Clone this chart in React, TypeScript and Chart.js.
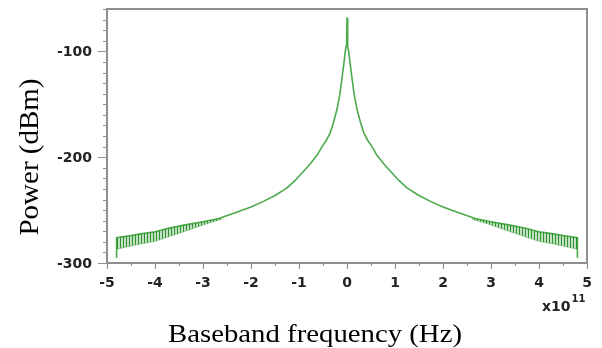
import React, { useEffect, useRef } from 'react';
import { Chart, registerables } from 'chart.js';
Chart.register(...registerables);

// Baseband frequency in units of 1e11 Hz
const freq = [
  -4.8, -4.8, -4.5, -4.3, -4.0, -3.7, -3.37, -3.0, -2.67, -2.3, -2.0, -1.75, -1.49, -1.25, -1.08, -0.9,
  -0.76, -0.62, -0.52, -0.43, -0.35, -0.28, -0.21, -0.15, -0.1, -0.07, -0.04, -0.02, -0.008, 0,
  0.008, 0.02, 0.04, 0.07, 0.1, 0.15, 0.21, 0.28, 0.35, 0.43, 0.52, 0.62, 0.76, 0.9, 1.08, 1.25,
  1.49, 1.75, 2.0, 2.3, 2.67, 3.0, 3.37, 3.7, 4.0, 4.3, 4.5, 4.8, 4.8,
];
// Power in dBm
const power = [
  -295, -276, -274, -272.5, -270.5, -267, -264, -261, -258, -252, -247, -242, -236, -229, -222, -213,
  -206, -198, -190, -184, -177, -167, -155, -141, -124, -113, -102, -95, -92, -68,
  -92, -95, -102, -113, -124, -141, -155, -167, -177, -184, -190, -198, -206, -213, -222, -229,
  -236, -242, -247, -252, -258, -261, -264, -267, -270.5, -272.5, -274, -276, -295,
];

// Noisy band near the edges (upper / lower envelope)
const bandFreqLeft = [-4.8, -4.5, -4.3, -4.0, -3.7, -3.37, -3.0, -2.6];
const bandUpperLeft = [-276, -274, -272.5, -270.5, -267, -264, -261, -257.5];
const bandLowerLeft = [-287, -284, -282, -279.5, -275, -270, -264, -258.5];
const bandFreqRight = [2.6, 3.0, 3.37, 3.7, 4.0, 4.3, 4.5, 4.8];
const bandUpperRight = [-257.5, -261, -264, -267, -270.5, -272.5, -274, -276];
const bandLowerRight = [-258.5, -264, -270, -275, -279.5, -282, -284, -287];

const xTickValues = [-5, -4, -3, -2, -1, 0, 1, 2, 3, 4, 5];
const xTickLabels = ['-5', '-4', '-3', '-2', '-1', '0', '1', '2', '3', '4', '5'];
const yTickValues = [-300, -200, -100];
const yTickLabels = ['-300', '-200', '-100'];

const pts = (xs: number[], ys: number[]) => xs.map((x, i) => ({ x, y: ys[i] }));

const frameColor = '#8f8f8f';
const labelFont = 'bold 14px "DejaVu Sans"';

const decorPlugin = {
  id: 'decor',
  afterDraw(chart: any) {
    const { ctx, chartArea: ca } = chart;
    const xs = chart.scales.x;
    const ys = chart.scales.y;
    ctx.save();
    // frame
    ctx.strokeStyle = frameColor;
    ctx.lineWidth = 2;
    ctx.strokeRect(ca.left, ca.top, ca.right - ca.left, ca.bottom - ca.top);
    // y ticks
    ctx.lineWidth = 1.2;
    ctx.beginPath();
    for (let v = -300; v <= -60; v += 10) {
      const y = Math.round(ys.getPixelForValue(v)) + 0.5;
      const len = v % 100 === 0 ? 9 : 4;
      ctx.moveTo(ca.left - len, y);
      ctx.lineTo(ca.left, y);
    }
    // x ticks
    for (let v = -5; v <= 5.001; v += 0.5) {
      const x = Math.round(xs.getPixelForValue(v)) + 0.5;
      const len = Math.abs(v % 1) < 1e-6 ? 6 : 3;
      ctx.moveTo(x, ca.bottom);
      ctx.lineTo(x, ca.bottom + len);
    }
    ctx.stroke();

    // tick labels
    ctx.fillStyle = '#222';
    ctx.font = labelFont;
    ctx.textAlign = 'right';
    ctx.textBaseline = 'middle';
    yTickValues.forEach((v, i) => {
      ctx.fillText(yTickLabels[i], ca.left - 15, ys.getPixelForValue(v) + 1);
    });
    ctx.textAlign = 'center';
    xTickValues.forEach((v, i) => {
      ctx.fillText(xTickLabels[i], xs.getPixelForValue(v), ca.bottom + 20);
    });

    // exponent label
    ctx.textBaseline = 'alphabetic';
    ctx.textAlign = 'left';
    ctx.font = 'bold 14px "DejaVu Sans"';
    ctx.fillText('x10', 542, 311);
    const wx = ctx.measureText('x10').width;
    ctx.font = 'bold 10px "DejaVu Sans"';
    ctx.fillText('11', 542 + wx + 1, 302);

    // axis titles
    ctx.fillStyle = '#000';
    ctx.font = '25px "Liberation Serif"';
    const t1 = 'Baseband frequency (Hz)';
    const w1 = ctx.measureText(t1).width;
    ctx.save();
    ctx.translate(315, 342);
    ctx.scale(294 / w1, 1);
    ctx.textAlign = 'center';
    ctx.fillText(t1, 0, 0);
    ctx.restore();

    const t2 = 'Power (dBm)';
    const w2 = ctx.measureText(t2).width;
    ctx.save();
    ctx.translate(38, 157);
    ctx.rotate(-Math.PI / 2);
    ctx.scale(157 / w2, 1.12);
    ctx.textAlign = 'center';
    ctx.fillText(t2, 0, 0);
    ctx.restore();
    ctx.restore();
  },
};

function makeHatch(): CanvasPattern | string {
  const pc = document.createElement('canvas');
  pc.width = 3;
  pc.height = 4;
  const c = pc.getContext('2d');
  if (!c) return 'rgba(30,140,30,0.55)';
  c.fillStyle = 'rgba(80,170,80,0.35)';
  c.fillRect(0, 0, 3, 4);
  c.fillStyle = 'rgba(20,130,20,0.85)';
  c.fillRect(0, 0, 1, 4);
  return c.createPattern(pc, 'repeat') || 'rgba(30,140,30,0.55)';
}

export default function App() {
  const ref = useRef<HTMLCanvasElement>(null);
  useEffect(() => {
    if (!ref.current) return;
    const lineColor = 'rgba(45,155,45,0.85)';
    const hatch = makeHatch();
    const chart = new Chart(ref.current, {
      type: 'line',
      data: {
        datasets: [
          {
            data: pts(bandFreqLeft, bandUpperLeft),
            borderColor: 'rgba(0,0,0,0)',
            borderWidth: 0,
            pointRadius: 0,
            fill: false,
          },
          {
            data: pts(bandFreqLeft, bandLowerLeft),
            borderColor: 'rgba(80,170,80,0.5)',
            borderWidth: 1,
            pointRadius: 0,
            backgroundColor: hatch,
            fill: '-1',
          },
          {
            data: pts(bandFreqRight, bandUpperRight),
            borderColor: 'rgba(0,0,0,0)',
            borderWidth: 0,
            pointRadius: 0,
            fill: false,
          },
          {
            data: pts(bandFreqRight, bandLowerRight),
            borderColor: 'rgba(80,170,80,0.5)',
            borderWidth: 1,
            pointRadius: 0,
            backgroundColor: hatch,
            fill: '-1',
          },
          {
            data: pts(freq, power),
            borderColor: lineColor,
            borderWidth: 1.6,
            pointRadius: 0,
            fill: false,
            tension: 0,
          },
        ],
      },
      options: {
        animation: false,
        responsive: false,
        maintainAspectRatio: false,
        layout: { padding: { top: 9, right: 15, left: 0, bottom: 0 } },
        plugins: { legend: { display: false }, tooltip: { enabled: false } },
        scales: {
          x: {
            type: 'linear',
            min: -5,
            max: 5,
            afterFit: (s: any) => { s.height = 85; },
            grid: { display: false, drawTicks: false },
            border: { display: false },
            ticks: { display: false },
          },
          y: {
            type: 'linear',
            min: -300,
            max: -60,
            afterFit: (s: any) => { s.width = 107; },
            grid: { display: false, drawTicks: false },
            border: { display: false },
            ticks: { display: false },
          },
        },
      },
      plugins: [decorPlugin],
    } as any);
    return () => chart.destroy();
  }, []);
  return (
    <div style={{ position: 'fixed', left: 0, top: 0, width: 602, height: 348, background: '#fff' }}>
      <canvas ref={ref} width={602} height={348} style={{ display: 'block', width: 602, height: 348 }} />
    </div>
  );
}
